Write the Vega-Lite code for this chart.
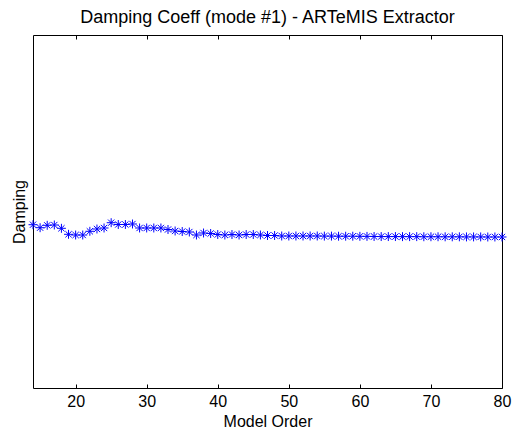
{
  "$schema": "https://vega.github.io/schema/vega-lite/v6.json",
  "width": 469,
  "height": 353,
  "autosize": {"type": "none"},
  "padding": {"left": 33, "top": 35, "right": 10, "bottom": 41},
  "background": "white",
  "title": {"text": "Damping Coeff (mode #1) - ARTeMIS Extractor", "font": "Liberation Sans", "fontSize": 18, "fontWeight": "normal", "color": "black", "offset": 8},
  "config": {
    "view": {"stroke": "black", "strokeWidth": 1},
    "axis": {"labelFont": "Liberation Sans", "titleFont": "Liberation Sans", "labelColor": "black", "titleColor": "black", "domain": false, "grid": false, "titleFontWeight": "normal"}
  },
  "data": {"values": [
    {"order": 14, "damping": 0.04626},
    {"order": 15, "damping": 0.04541},
    {"order": 16, "damping": 0.04609},
    {"order": 17, "damping": 0.04618},
    {"order": 18, "damping": 0.04524},
    {"order": 19, "damping": 0.04354},
    {"order": 20, "damping": 0.04334},
    {"order": 21, "damping": 0.04334},
    {"order": 22, "damping": 0.04439},
    {"order": 23, "damping": 0.04504},
    {"order": 24, "damping": 0.04533},
    {"order": 25, "damping": 0.04683},
    {"order": 26, "damping": 0.04632},
    {"order": 27, "damping": 0.04632},
    {"order": 28, "damping": 0.04646},
    {"order": 29, "damping": 0.04533},
    {"order": 30, "damping": 0.04533},
    {"order": 31, "damping": 0.04533},
    {"order": 32, "damping": 0.04533},
    {"order": 33, "damping": 0.0449},
    {"order": 34, "damping": 0.04448},
    {"order": 35, "damping": 0.04433},
    {"order": 36, "damping": 0.04419},
    {"order": 37, "damping": 0.04334},
    {"order": 38, "damping": 0.04391},
    {"order": 39, "damping": 0.04377},
    {"order": 40, "damping": 0.04348},
    {"order": 41, "damping": 0.04334},
    {"order": 42, "damping": 0.04348},
    {"order": 43, "damping": 0.04334},
    {"order": 44, "damping": 0.04348},
    {"order": 45, "damping": 0.04348},
    {"order": 46, "damping": 0.04334},
    {"order": 47, "damping": 0.0432},
    {"order": 48, "damping": 0.0432},
    {"order": 49, "damping": 0.04306},
    {"order": 50, "damping": 0.04306},
    {"order": 51, "damping": 0.04306},
    {"order": 52, "damping": 0.04306},
    {"order": 53, "damping": 0.04306},
    {"order": 54, "damping": 0.04306},
    {"order": 55, "damping": 0.04303},
    {"order": 56, "damping": 0.04303},
    {"order": 57, "damping": 0.043},
    {"order": 58, "damping": 0.043},
    {"order": 59, "damping": 0.043},
    {"order": 60, "damping": 0.04297},
    {"order": 61, "damping": 0.04295},
    {"order": 62, "damping": 0.04292},
    {"order": 63, "damping": 0.0429},
    {"order": 64, "damping": 0.0429},
    {"order": 65, "damping": 0.0429},
    {"order": 66, "damping": 0.04288},
    {"order": 67, "damping": 0.04288},
    {"order": 68, "damping": 0.04288},
    {"order": 69, "damping": 0.04285},
    {"order": 70, "damping": 0.04285},
    {"order": 71, "damping": 0.04285},
    {"order": 72, "damping": 0.04283},
    {"order": 73, "damping": 0.04283},
    {"order": 74, "damping": 0.04283},
    {"order": 75, "damping": 0.0428},
    {"order": 76, "damping": 0.0428},
    {"order": 77, "damping": 0.0428},
    {"order": 78, "damping": 0.04278},
    {"order": 79, "damping": 0.04278},
    {"order": 80, "damping": 0.04278}
  ]},
  "layer": [
    {
      "mark": {"type": "point", "shape": "M-1,0L1,0M0,-1L0,1M-0.7,-0.7L0.7,0.7M-0.7,0.7L0.7,-0.7", "filled": false, "stroke": "#0000ff", "strokeWidth": 1, "size": 80, "opacity": 1},
      "encoding": {
        "x": {"field": "order", "type": "quantitative", "scale": {"domain": [14, 80], "nice": false, "zero": false},
          "axis": {"orient": "bottom", "title": "Model Order", "values": [20, 30, 40, 50, 60, 70, 80], "tickSize": -4, "tickColor": "black", "labelFontSize": 16, "titleFontSize": 16, "labelPadding": 9, "titlePadding": 4, "labelFlush": false}},
        "y": {"field": "damping", "type": "quantitative", "scale": {"domain": [0, 0.1], "nice": false, "zero": false},
          "axis": {"title": "Damping", "labels": false, "ticks": false, "titleFontSize": 16, "titlePadding": 6}}
      }
    },
    {
      "mark": {"type": "point", "opacity": 0},
      "encoding": {
        "x": {"field": "order", "type": "quantitative",
          "axis": {"orient": "top", "title": null, "labels": false, "values": [20, 30, 40, 50, 60, 70, 80], "tickSize": -4, "tickColor": "black"}},
        "y": {"field": "damping", "type": "quantitative"}
      }
    }
  ],
  "resolve": {"axis": {"x": "independent"}}
}
